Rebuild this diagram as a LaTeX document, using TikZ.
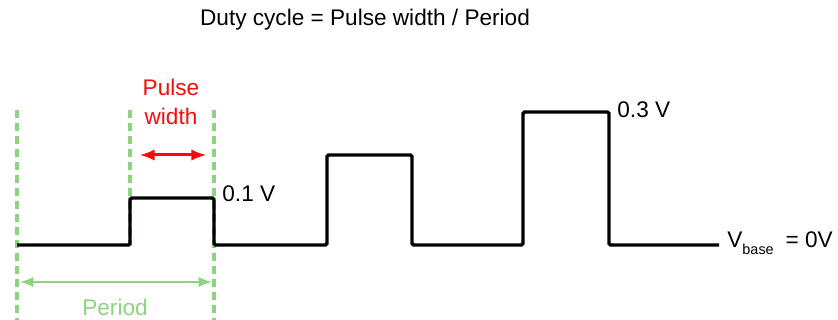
\documentclass[tikz,border=0pt]{standalone}
\usepackage{fontspec}
\setmainfont{Liberation Sans}
\usetikzlibrary{positioning}
\usetikzlibrary{arrows}
\usepackage{xcolor}
\definecolor{guide}{RGB}{140,212,128}
\definecolor{pulsered}{RGB}{250,10,10}

\begin{document}
\begin{tikzpicture}[x=0.5pt, y=-0.5pt,
  wave/.style = {draw, line width=1.7pt, rounded corners=0.8pt},
  guideline/.style = {draw=guide, line width=1.8pt, dash pattern=on 4pt off 2.5pt},
  lbl/.style = {font=\fontsize{11.3}{13.5}\selectfont, inner sep=0pt}]
\useasboundingbox (0,0) rectangle (838,320);
% guides
\coordinate (g1t) at (17,110);  \coordinate (g1b) at (17,320);
\coordinate (g2t) at (130,110); \coordinate (g2b) at (130,246);
\coordinate (g3t) at (214,110); \coordinate (g3b) at (214,320);
\path[guideline] (g1t) -- (g1b);
\path[guideline] (g2t) -- (g2b);
\path[guideline] (g3t) -- (g3b);
% signal
\path[wave] (17,245) -- (130,245) -- (130,198) -- (214,198) -- (214,245)
  -- (327,245) -- (327,155) -- (412,155) -- (412,245)
  -- (523,245) -- (523,112) -- (609,112) -- (609,245) -- (719,245);
% labels
\node[lbl] (title) at (365,20) {Duty cycle = Pulse width / Period};
\node[lbl, text=pulsered, align=center] (pw) at (171,102) {Pulse\\[1pt]width};
\node[lbl, anchor=west] (v1) at (222,194) {0.1 V};
\node[lbl, anchor=west] (v3) at (617,110) {0.3 V};
\node[lbl, anchor=west] (vb) at (727,243) {V{\fontsize{7.2}{8}\selectfont\raisebox{-3.5pt}{base}}\hspace{6pt}= 0V};
\node[lbl, text=guide] (per) at (115,307) {Period};
% arrows
\coordinate (pw-l) at (140,155); \coordinate (pw-r) at (206,155);
\coordinate (per-l) at (20,282); \coordinate (per-r) at (212,282);
\path (pw-l) edge [latex-latex, draw=pulsered, line width=1.5pt] (pw-r);
\path (per-l) edge [latex-latex, draw=guide, line width=1.3pt] (per-r);
\end{tikzpicture}
\end{document}
